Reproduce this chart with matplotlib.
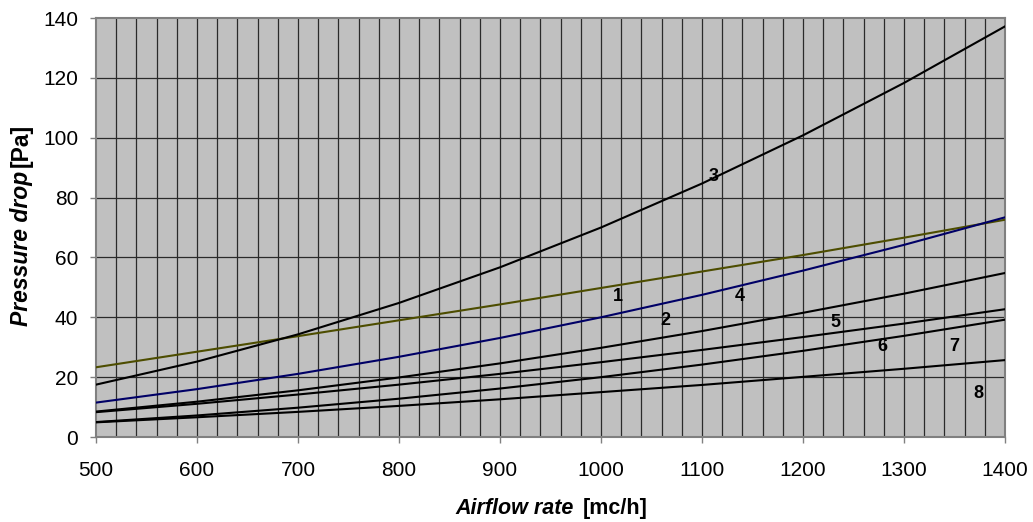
import matplotlib.pyplot as plt
import numpy as np

plt.rcParams['font.family'] = ['Liberation Sans', 'DejaVu Sans']

airflow = [500, 600, 700, 800, 900, 1000, 1100, 1200, 1300, 1400]

curve1 = [23.3, 28.5, 33.7, 39.0, 44.3, 49.8, 55.3, 60.8, 66.6, 72.6]
curve3 = [17.5, 25.2, 34.3, 44.8, 56.7, 70.0, 84.7, 100.8, 118.3, 137.2]
curve4 = [11.5, 16.0, 21.1, 26.8, 33.1, 40.0, 47.5, 55.6, 64.2, 73.4]
curveA = [8.5, 11.8, 15.6, 19.9, 24.6, 29.8, 35.4, 41.5, 47.9, 54.8]
curveB = [8.3, 11.1, 14.2, 17.5, 21.1, 25.0, 29.1, 33.4, 37.9, 42.7]
curveC = [5.0, 7.2, 9.8, 12.8, 16.2, 20.0, 24.2, 28.8, 33.8, 39.2]
curveD = [4.9, 6.6, 8.4, 10.4, 12.6, 15.0, 17.4, 20.1, 22.8, 25.7]

labels = ['1', '2', '3', '4', '5', '6', '7', '8']
label_x = [1017, 1064, 1112, 1137, 1232, 1279, 1350, 1374]
label_y = [46.8, 38.8, 86.9, 46.8, 38.4, 30.4, 30.4, 14.7]

fig = plt.figure(figsize=(10.33, 5.22), dpi=100)
ax = fig.add_axes([0.0929, 0.1628, 0.88, 0.8027])
ax.set_facecolor('#c0c0c0')

# grid every 20 in both directions
for gx in np.arange(520, 1400, 20):
    ax.axvline(gx, color='#2a2a2a', lw=0.9, zorder=1)
for gy in np.arange(20, 140, 20):
    ax.axhline(gy, color='#2a2a2a', lw=0.9, zorder=1)

x = np.array(airflow)
ax.plot(x, curve1, color='#4d4d00', lw=1.5, zorder=3)
ax.plot(x, curve3, color='black', lw=1.5, zorder=3)
ax.plot(x, curve4, color='#000066', lw=1.5, zorder=3)
ax.plot(x, curveA, color='black', lw=1.5, zorder=3)
ax.plot(x, curveB, color='black', lw=1.5, zorder=3)
ax.plot(x, curveC, color='black', lw=1.5, zorder=3)
ax.plot(x, curveD, color='black', lw=1.5, zorder=3)

for t, lx, ly in zip(labels, label_x, label_y):
    ax.text(lx, ly, t, fontsize=13, fontweight='bold', ha='center', va='center', zorder=4)

ax.set_xlim(500, 1400)
ax.set_ylim(0, 140)
ax.set_xticks(np.arange(500, 1401, 100))
ax.set_yticks(np.arange(0, 141, 20))
ax.tick_params(direction='out', length=4.3, width=1, color='#808080', labelsize=15)
ax.tick_params(axis='x', pad=13)
ax.tick_params(axis='y', pad=8.5)
for s in ax.spines.values():
    s.set_color('#808080')
    s.set_linewidth(1.5)

# axis titles: italic name + upright unit
fig.text(0.5557, 0.0153, 'Airflow rate', fontsize=15.5, fontweight='bold', style='italic',
         ha='right', va='baseline')
fig.text(0.5644, 0.0153, '[mc/h]', fontsize=15.5, fontweight='bold', ha='left', va='baseline')
fig.text(0.0271, 0.672, 'Pressure drop', fontsize=16.5, fontweight='bold', style='italic',
         ha='right', va='baseline', rotation=90, rotation_mode='anchor')
fig.text(0.0271, 0.681, '[Pa]', fontsize=16.5, fontweight='bold', ha='left', va='baseline',
         rotation=90, rotation_mode='anchor')

fig.savefig('out.png', dpi=100)
